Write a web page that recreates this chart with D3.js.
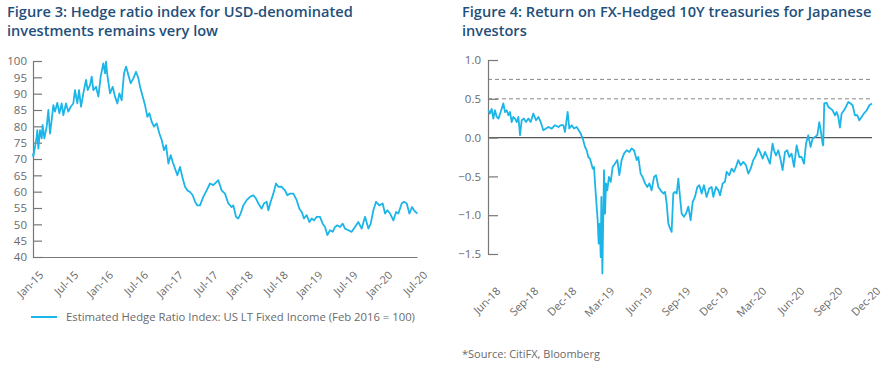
<!DOCTYPE html>
<html>
<head>
<meta charset="utf-8">
<script src="https://cdn.jsdelivr.net/npm/d3@7"></script>
<style>
  body { margin: 0; background: #fff; }
  text { font-family: "Open Sans", sans-serif; }
</style>
</head>
<body>
<div id="container"></div>
<script>
/* CONSTANTS AND GLOBALS */
const width = 889,
  height = 365,
  lineColor = "#1cb5e8",
  titleColor = "#1f4f7b",
  axisColor = "#777",
  labelColor = "#6a6a6a"

/* DATA */
// left chart: months since Jan-15, index value
const hedgeTickLabels = ["Jan-15","Jul-15","Jan-16","Jul-16","Jan-17","Jul-17","Jan-18","Jul-18","Jan-19","Jul-19","Jan-20","Jul-20"]
const hedgeYTicks = [40,45,50,55,60,65,70,75,80,85,90,95,100]
const hedgeIndex = [
  [0,71.7],[0.06,70.7],[0.63,76.8],[0.74,78.8],[0.92,73.2],[1.2,78.8],[1.49,76.3],[1.66,80.4],[1.95,76.3],
  [2.35,79.9],[2.64,85],[2.92,77.8],[3.21,81.9],[3.5,86.5],[3.78,84.5],[4.18,87.2],[4.53,84],[4.93,87],
  [5.21,83.4],[5.67,87],[6.07,84.5],[6.48,86],[6.93,87],[7.22,91.1],[7.62,87],[7.91,91.1],[8.25,86],
  [8.65,90.1],[9.11,94.2],[9.4,91.1],[9.8,92.6],[10.09,95.2],[10.37,91.1],[10.83,92.1],[11.23,89.1],
  [11.63,95.2],[12.09,99.3],[12.38,96.2],[12.55,99.8],[12.78,95.7],[13.24,90.1],[13.7,92.1],[14.1,89.1],
  [14.5,87],[14.84,90.1],[15.24,88],[15.64,96.2],[15.99,98.3],[16.39,95.7],[16.79,93.2],[17.25,94.7],
  [17.71,96.7],[18.11,94.7],[18.4,92.1],[18.85,89.1],[19.25,86.5],[19.66,82.9],[20,84],[20.4,81.4],
  [20.8,79.9],[21.26,80.9],[21.72,77.8],[22.12,75.8],[22.52,72.7],[22.87,74.2],[23.27,68.6],[23.67,71.2],
  [24.01,69.1],[24.41,67.1],[24.81,65],[25.27,67.6],[25.73,64],[26.13,61.5],[26.53,60.4],[26.99,59.9],
  [27.45,58.9],[27.85,56.9],[28.25,55.8],[28.7,55.8],[29.27,58.4],[29.85,60.4],[30.42,62.5],[31.0,62],
  [31.85,63.5],[32.42,60.4],[33.0,59.4],[33.57,56.4],[34.14,55.3],[34.43,55.8],[34.89,52.3],[35.29,51.8],
  [35.69,53.3],[36.15,55.8],[36.72,57.4],[37.3,58.4],[37.87,58.9],[38.33,57.9],[38.73,56.4],[39.3,54.8],
  [39.7,56.4],[40.16,56.9],[40.45,54.3],[40.85,56.9],[41.31,59.4],[41.77,62.5],[42.17,61.5],[42.74,61.5],
  [43.31,60.4],[43.71,58.9],[44.17,59.4],[44.75,59.4],[45.32,57.4],[45.78,54.8],[46.18,53.8],[46.58,51.8],
  [47.04,52.8],[47.5,50.7],[47.9,51.8],[48.3,51.2],[48.76,52.3],[49.33,52.3],[49.79,50.2],[50.19,49.2],
  [50.59,46.7],[51.05,48.2],[51.51,47.7],[51.91,49.2],[52.31,49.7],[52.77,49.2],[53.23,50.2],[53.63,48.7],
  [54.2,48.2],[54.77,47.7],[55.35,49.2],[55.92,50.7],[56.49,48.7],[57.07,52.3],[57.64,48.7],[58.04,50.2],
  [58.5,54.3],[58.96,56.9],[59.53,55.8],[60.1,56.4],[60.51,53.3],[60.91,54.3],[61.37,53.3],[61.94,51.2],
  [62.4,53.8],[62.8,53.3],[63.37,56.4],[63.77,56.9],[64.23,56.4],[64.69,53.3],[65.15,55.3],[65.49,54.3],
  [66.06,53.3]
]

// right chart: months since Jun-18, hedged return
const returnTickLabels = ["Jun-18","Sep-18","Dec-18","Mar-19","Jun-19","Sep-19","Dec-19","Mar-20","Jun-20","Sep-20","Dec-20"]
const returnYTicks = [-1.5,-1.0,-0.5,0.0,0.5,1.0]
const returnRefLines = [0.5,0.75]
const hedgedReturn = [
  [-0.13,0.352],[0,0.31],[0.13,0.37],[0.26,0.245],[0.39,0.352],[0.53,0.266],[0.66,0.245],[0.84,0.33],
  [1.05,0.44],[1.18,0.33],[1.32,0.352],[1.45,0.288],[1.58,0.33],[1.71,0.2],[1.84,0.266],[1.97,0.245],
  [2.11,0.2],[2.24,0.266],[2.37,0.03],[2.5,0.223],[2.68,0.245],[2.84,0.2],[3.03,0.245],[3.21,0.2],
  [3.42,0.31],[3.63,0.223],[3.82,0.266],[4.0,0.2],[4.21,0.095],[4.42,0.116],[4.61,0.137],[4.87,0.116],
  [5.13,0.16],[5.39,0.137],[5.58,0.16],[5.79,0.16],[5.92,0.073],[6.13,0.33],[6.26,0.116],[6.45,0.16],
  [6.63,0.116],[6.84,0.137],[7.0,0.095],[7.16,0.052],[7.32,-0.013],[7.5,-0.12],[7.63,-0.163],[7.76,-0.25],
  [7.89,-0.27],[8.11,-0.4],[8.21,-0.378],[8.29,-0.59],[8.42,-0.89],[8.5,-1.065],[8.58,-1.366],[8.66,-1.108],
  [8.74,-1.54],[8.79,-0.765],[8.87,-1.75],[8.95,-0.936],[9.0,-0.42],[9.08,-0.98],[9.16,-0.59],[9.26,-0.68],
  [9.39,-0.507],[9.53,-0.57],[9.68,-0.378],[9.87,-0.335],[10.05,-0.29],[10.21,-0.485],[10.39,-0.29],
  [10.58,-0.206],[10.79,-0.163],[11.0,-0.185],[11.18,-0.14],[11.37,-0.163],[11.58,-0.29],[11.71,-0.25],
  [11.89,-0.464],[12.05,-0.507],[12.24,-0.59],[12.42,-0.636],[12.58,-0.59],[12.76,-0.68],[12.95,-0.507],
  [13.11,-0.485],[13.29,-0.636],[13.47,-0.68],[13.68,-0.72],[13.82,-0.7],[13.95,-0.85],[14.08,-1.108],
  [14.21,-1.17],[14.34,-1.215],[14.47,-0.72],[14.6,-0.7],[14.74,-0.72],[14.87,-0.528],[15.0,-0.765],
  [15.13,-0.98],[15.31,-1.02],[15.47,-0.98],[15.66,-0.89],[15.84,-1.065],[16.0,-0.83],[16.18,-0.765],
  [16.37,-0.636],[16.53,-0.614],[16.71,-0.72],[16.89,-0.614],[17.1,-0.765],[17.31,-0.657],[17.5,-0.636],
  [17.63,-0.765],[17.84,-0.636],[18.03,-0.68],[18.16,-0.743],[18.37,-0.59],[18.55,-0.57],[18.68,-0.44],
  [18.89,-0.485],[19.08,-0.4],[19.26,-0.44],[19.42,-0.378],[19.6,-0.29],[19.79,-0.356],[20.0,-0.313],
  [20.21,-0.356],[20.39,-0.464],[20.58,-0.4],[20.79,-0.29],[21.0,-0.228],[21.18,-0.14],[21.31,-0.185],
  [21.53,-0.27],[21.71,-0.185],[21.89,-0.25],[22.1,-0.335],[22.31,-0.077],[22.42,-0.163],[22.58,-0.228],
  [22.76,-0.163],[22.95,-0.29],[23.1,-0.42],[23.29,-0.185],[23.47,-0.163],[23.63,-0.25],[23.81,-0.206],
  [24.0,-0.378],[24.21,-0.1],[24.42,-0.25],[24.6,-0.25],[24.79,-0.335],[24.95,-0.077],[25.13,0.03],
  [25.31,-0.12],[25.47,-0.013],[25.66,0.009],[25.84,0.03],[26.0,0.2],[26.13,0.073],[26.26,-0.077],
  [26.31,-0.1],[26.39,0.44],[26.58,0.447],[26.71,0.395],[26.89,0.374],[27.05,0.352],[27.24,0.288],
  [27.37,0.33],[27.5,0.266],[27.63,0.13],[27.76,0.31],[27.95,0.352],[28.1,0.395],[28.29,0.46],[28.47,0.44],
  [28.63,0.417],[28.81,0.288],[29.0,0.288],[29.16,0.223],[29.34,0.266],[29.52,0.31],[29.74,0.352],
  [29.95,0.417],[30.16,0.44]
]

/* SVG */
const svg = d3.select("#container")
  .append("svg")
  .attr("width", width)
  .attr("height", height)

/* TITLES */
function title(x, lines) {
  const t = svg.append("text")
    .attr("x", x)
    .attr("y", 17)
    .attr("fill", titleColor)
    .style("font-size", "14.6px")
    .style("font-weight", 600)
  lines.forEach((l, i) => t.append("tspan").attr("x", x).attr("dy", i ? 19 : 0).text(l))
}
title(7, ["Figure 3: Hedge ratio index for USD-denominated", "investments remains very low"])
title(462, ["Figure 4: Return on FX-Hedged 10Y treasuries for Japanese", "investors"])

// rotated date labels, end of text sits just right of the tick
const rotateLabels = sel => sel.selectAll("text")
  .attr("text-anchor", "end")
  .attr("transform", "translate(8,16) rotate(-45)")
  .attr("x", 0).attr("y", 0).attr("dy", "0.35em")
  .style("font-size", "11px")

/* LEFT CHART */
const xL = d3.scaleLinear().domain([0, 66]).range([33, 417])
const yL = d3.scaleLinear().domain([40, 100]).range([257, 61])

const yAxisL = svg.append("g")
  .attr("transform", "translate(33,0)")
  .call(d3.axisRight(yL).tickValues(hedgeYTicks).tickSize(9).tickFormat(d3.format("d")))
yAxisL.selectAll("text").attr("x", -6).attr("text-anchor", "end")

svg.append("g")
  .attr("transform", "translate(0,257)")
  .call(d3.axisBottom(xL).tickValues(d3.range(0, 67, 6)).tickSize(0).tickFormat((d, i) => hedgeTickLabels[i]))
  .call(rotateLabels)

svg.append("path")
  .datum(hedgeIndex)
  .attr("fill", "none")
  .attr("stroke", lineColor)
  .attr("stroke-width", 1.8)
  .attr("stroke-linejoin", "round")
  .attr("d", d3.line().x(d => xL(d[0])).y(d => yL(d[1])))

// legend
svg.append("line")
  .attr("x1", 31).attr("x2", 57).attr("y1", 317).attr("y2", 317)
  .attr("stroke", lineColor).attr("stroke-width", 2)
svg.append("text")
  .attr("x", 66).attr("y", 321)
  .attr("fill", labelColor)
  .style("font-size", "11.3px")
  .text("Estimated Hedge Ratio Index: US LT Fixed Income (Feb 2016 = 100)")

/* RIGHT CHART */
const xR = d3.scaleLinear().domain([-0.16, 30.16]).range([488, 872])
const yR = d3.scaleLinear().domain([-1.5, 1.0]).range([254, 60])

svg.selectAll(".ref")
  .data(returnRefLines)
  .join("line")
  .attr("class", "ref")
  .attr("x1", 488).attr("x2", 873)
  .attr("y1", d => yR(d)).attr("y2", d => yR(d))
  .attr("stroke", "#888").attr("stroke-width", 1).attr("stroke-dasharray", "4,3")

svg.append("line")
  .attr("x1", 488).attr("x2", 872)
  .attr("y1", yR(0)).attr("y2", yR(0))
  .attr("stroke", "#555").attr("stroke-width", 1.2)

const yAxisR = svg.append("g")
  .attr("transform", "translate(488,0)")
  .call(d3.axisRight(yR).tickValues(returnYTicks).tickSize(10).tickFormat(d3.format(".1f")))
yAxisR.selectAll("text").attr("x", -7).attr("text-anchor", "end")

svg.append("g")
  .attr("transform", "translate(0,273)")
  .call(d3.axisBottom(xR).tickValues(d3.range(0, 31, 3)).tickSize(0).tickFormat((d, i) => returnTickLabels[i]))
  .call(g => g.select(".domain").remove())
  .call(rotateLabels)

svg.append("path")
  .datum(hedgedReturn)
  .attr("fill", "none")
  .attr("stroke", lineColor)
  .attr("stroke-width", 1.8)
  .attr("stroke-linejoin", "round")
  .attr("d", d3.line().x(d => xR(d[0])).y(d => yR(d[1])))

svg.append("text")
  .attr("x", 462).attr("y", 358)
  .attr("fill", labelColor)
  .style("font-size", "11px")
  .text("*Source: CitiFX, Bloomberg")

/* AXIS STYLE */
svg.selectAll(".domain, .tick line").attr("stroke", axisColor).attr("stroke-width", 1.2)
svg.selectAll(".tick text").attr("fill", labelColor).style("font-family", "'Open Sans', sans-serif")
yAxisL.selectAll("text").style("font-size", "11.5px")
yAxisR.selectAll("text").style("font-size", "11.5px")
</script>
</body>
</html>
